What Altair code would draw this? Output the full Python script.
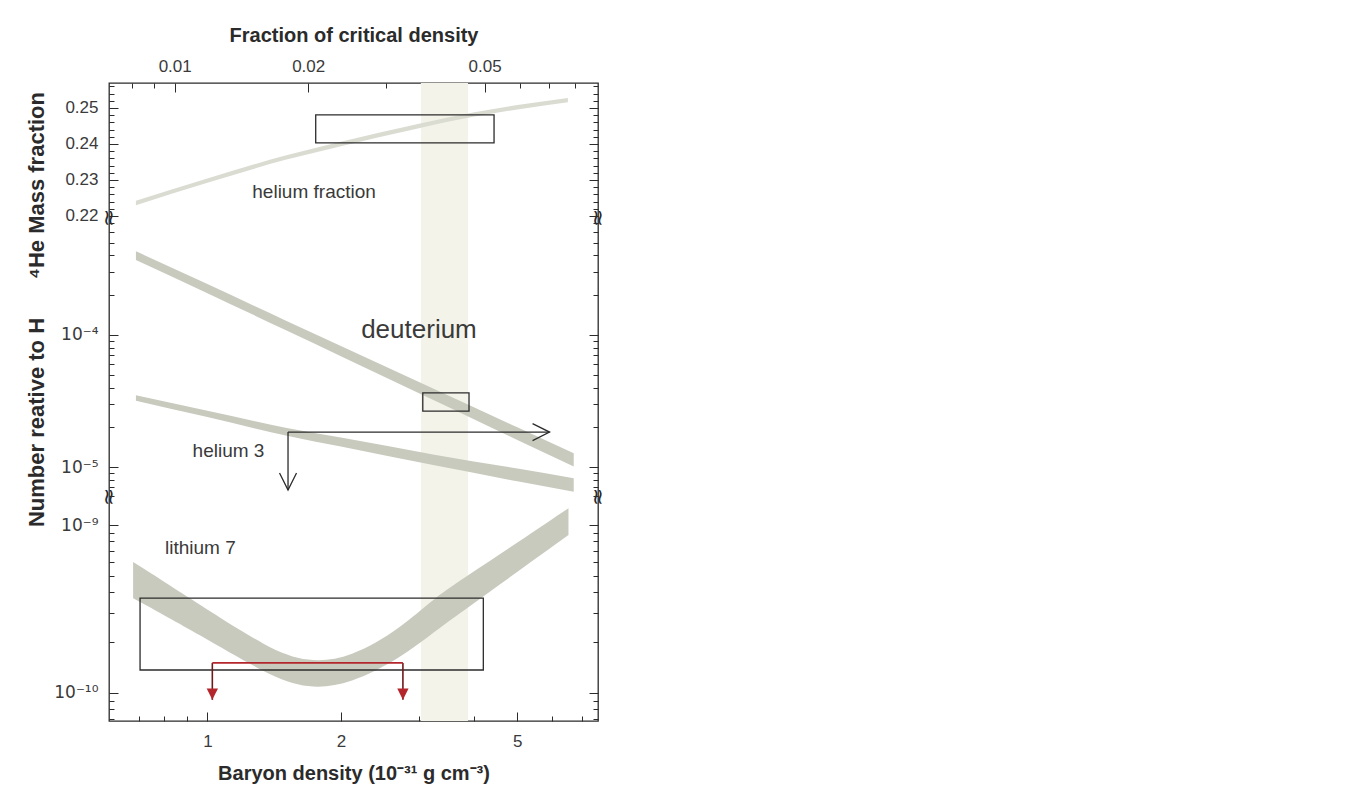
import altair as alt
import pandas as pd

FONT = "Liberation Sans"
SUP_FONT = "DejaVu Sans"
INK = "#2b2b2b"
TEXT = "#3a3a3a"
BAND = "#c8cabe"
BAND_HE = "#dadcd2"
SHADE_COLOR = "#f4f3ea"
RED = "#b3262b"

# ---------------- axes / domains ----------------
X_DOMAIN = [0.6, 7.6]
HE_DOMAIN = [0.21944, 0.25694]
MID_DOMAIN = [5.93e-6, 7.69e-4]
LI_DOMAIN = [6.81e-11, 1.468e-9]

X_MAJOR = [1, 2, 5]
X_MINOR = [0.7, 0.8, 0.9, 3, 4, 6, 7]
FRAC_PER_UNIT = 0.01185
FRAC_MAJOR = [0.01, 0.02, 0.05]
FRAC_MINOR = [0.008, 0.009, 0.03, 0.04, 0.06, 0.07, 0.08]
HE_MAJOR = [0.22, 0.23, 0.24, 0.25]
HE_MINOR = [0.222, 0.224, 0.226, 0.228, 0.232, 0.234, 0.236, 0.238,
            0.242, 0.244, 0.246, 0.248, 0.252, 0.254, 0.256]
MID_MAJOR = [1e-5, 1e-4]
MID_MINOR = [6e-6, 7e-6, 8e-6, 9e-6, 2e-5, 3e-5, 4e-5, 5e-5, 6e-5, 7e-5, 8e-5, 9e-5,
             2e-4, 3e-4, 4e-4, 5e-4, 6e-4, 7e-4]
LI_MAJOR = [1e-10, 1e-9]
LI_MINOR = [7e-11, 8e-11, 9e-11, 2e-10, 3e-10, 4e-10, 5e-10, 6e-10, 7e-10, 8e-10, 9e-10]

# ---------------- data ----------------
SHADE_X = [3.03, 3.87]

HE_X = [0.69, 1.0, 1.5, 2.0, 3.0, 4.0, 5.0, 6.5]
HE_LO = [0.2230, 0.2292, 0.2356, 0.2394, 0.2444, 0.2476, 0.2496, 0.2516]
HE_HI = [0.2242, 0.2304, 0.2368, 0.2406, 0.2456, 0.2488, 0.2508, 0.2528]
HE_BOX_X = [1.755, 4.43]
HE_BOX_Y = [0.2403, 0.2481]

D_X = [0.69, 1.0, 1.5, 2.0, 3.0, 4.0, 5.0, 6.7]
D_LO = [3.69e-4, 2.07e-4, 1.09e-4, 6.90e-5, 3.62e-5, 2.29e-5, 1.60e-5, 1.01e-5]
D_HI = [4.30e-4, 2.43e-4, 1.29e-4, 8.26e-5, 4.40e-5, 2.82e-5, 2.00e-5, 1.27e-5]
D_BOX_X = [3.06, 3.89]
D_BOX_Y = [2.65e-5, 3.64e-5]

HE3_X = [0.69, 1.0, 1.52, 2.0, 3.25, 5.0, 6.7]
HE3_LO = [3.18e-5, 2.39e-5, 1.72e-5, 1.43e-5, 1.03e-5, 7.80e-6, 6.49e-6]
HE3_HI = [3.49e-5, 2.67e-5, 1.97e-5, 1.67e-5, 1.24e-5, 9.73e-6, 8.24e-6]
HE3_ARROW_X = [1.52, 5.91]
HE3_ARROW_Y = [1.84e-5, 6.7e-6]

LI_X = [0.68, 0.964, 1.367, 1.684, 2.106, 2.733, 3.245, 3.88, 5.03, 6.52]
LI_LO = [3.67e-10, 2.21e-10, 1.28e-10, 1.05e-10, 1.13e-10, 1.62e-10, 2.31e-10, 3.25e-10, 5.32e-10, 8.71e-10]
LI_HI = [6.03e-10, 3.34e-10, 1.85e-10, 1.51e-10, 1.62e-10, 2.44e-10, 3.67e-10, 5.04e-10, 7.92e-10, 1.26e-9]
LI_BOX_X = [0.705, 4.19]
LI_BOX_Y = [1.37e-10, 3.67e-10]
RED_X = [1.026, 2.76]
RED_Y = [1.51e-10, 9.1e-11]

LABEL_HE = (["helium fraction"], [1.74], [0.2267])
LABEL_D = (["deuterium"], [3.0], [1.09e-4])
LABEL_HE3 = (["helium 3"], [1.116], [1.32e-5])
LABEL_LI = (["lithium 7"], [0.964], [7.3e-10])

# ---------------- layout (pixels) ----------------
W, H = 489, 638
HE_RANGE = [135, 0]      # helium fraction block
MID_RANGE = [414, 135]   # deuterium / helium-3 block
LI_RANGE = [638, 414]    # lithium block

XS = alt.Scale(type="log", domain=X_DOMAIN, nice=False)


def ys(kind, dom, rng):
    if kind == "log":
        return alt.Scale(type="log", domain=dom, range=rng, nice=False)
    return alt.Scale(type="linear", domain=dom, range=rng, nice=False, zero=False)


YS_HE = ys("linear", HE_DOMAIN, HE_RANGE)
YS_MID = ys("log", MID_DOMAIN, MID_RANGE)
YS_LI = ys("log", LI_DOMAIN, LI_RANGE)


def ghost(values, channel, scale, axis):
    df = pd.DataFrame({"v": values})
    if channel == "x":
        enc = dict(x=alt.X("v:Q", scale=scale, axis=axis))
    else:
        enc = dict(y=alt.Y("v:Q", scale=scale, axis=axis))
    return alt.Chart(df).mark_point(opacity=0).encode(**enc)


TICK_COMMON = dict(labels=False, grid=False, title=None, tickColor=INK, tickWidth=1,
                   domain=False)


def y_ticks(major, minor, scale):
    return [
        ghost(major, "y", scale, alt.Axis(orient="right", offset=-W, values=major, tickSize=9,
                                          **TICK_COMMON)),
        ghost(minor, "y", scale, alt.Axis(orient="right", offset=-W, values=minor, tickSize=5,
                                          **TICK_COMMON)),
        ghost(major, "y", scale, alt.Axis(orient="left", offset=-W, values=major, tickSize=9,
                                          **TICK_COMMON)),
        ghost(minor, "y", scale, alt.Axis(orient="left", offset=-W, values=minor, tickSize=5,
                                          **TICK_COMMON)),
    ]


def label_axis(values, label_expr=None, title=None, title_y=None):
    kw = dict(orient="left", values=values, ticks=False, tickSize=0, domain=False,
              labelColor=TEXT, labelPadding=11, grid=False)
    if label_expr:
        kw.update(labelExpr=label_expr, labelFont=SUP_FONT, labelFontSize=17)
    else:
        kw.update(format=".2f", labelFont=FONT, labelFontSize=17)
    if title:
        kw.update(title=title, titleFontSize=22, titleFontWeight="bold", titleColor=INK,
                  titleX=-73, titleY=title_y, titleAngle=-90, titleAlign="center",
                  titleBaseline="middle")
    else:
        kw["title"] = None
    return alt.Axis(**kw)


def shade():
    df = pd.DataFrame({"x1": [SHADE_X[0]], "x2": [SHADE_X[1]]})
    return alt.Chart(df).mark_rect(color=SHADE_COLOR).encode(
        x=alt.X("x1:Q", scale=XS, axis=None), x2="x2:Q")


def band(xs, lo, hi, yscale, color, interp="monotone"):
    df = pd.DataFrame({"x": xs, "lo": lo, "hi": hi})
    return alt.Chart(df).mark_area(color=color, interpolate=interp).encode(
        x=alt.X("x:Q", scale=XS, axis=None),
        y=alt.Y("lo:Q", scale=yscale, axis=None),
        y2="hi:Q")


def box(bx, by, yscale):
    df = pd.DataFrame({"x1": [bx[0]], "x2": [bx[1]], "y1": [by[0]], "y2": [by[1]]})
    return alt.Chart(df).mark_rect(fill="transparent", stroke=INK, strokeWidth=1.3).encode(
        x=alt.X("x1:Q", scale=XS, axis=None), x2="x2:Q",
        y=alt.Y("y1:Q", scale=yscale, axis=None), y2="y2:Q")


def label(spec, yscale, size):
    t, xs, yv = spec
    df = pd.DataFrame({"t": t, "x": xs, "y": yv})
    return alt.Chart(df).mark_text(font=FONT, fontSize=size, color=TEXT).encode(
        x=alt.X("x:Q", scale=XS, axis=None),
        y=alt.Y("y:Q", scale=yscale, axis=None),
        text="t:N")


frac_major_pos = [f / FRAC_PER_UNIT for f in FRAC_MAJOR]
frac_minor_pos = [f / FRAC_PER_UNIT for f in FRAC_MINOR]

he3_h = pd.DataFrame({"x1": [HE3_ARROW_X[0]], "x2": [HE3_ARROW_X[1]], "y": [HE3_ARROW_Y[0]]})
he3_v = pd.DataFrame({"x": [HE3_ARROW_X[0]], "y1": [HE3_ARROW_Y[0]], "y2": [HE3_ARROW_Y[1]]})
he3_head_r = pd.DataFrame({"x": [HE3_ARROW_X[1]], "y": [HE3_ARROW_Y[0]]})
he3_head_d = pd.DataFrame({"x": [HE3_ARROW_X[0]], "y": [HE3_ARROW_Y[1]]})
breaks = pd.DataFrame({"x": [X_DOMAIN[0], X_DOMAIN[1], X_DOMAIN[0], X_DOMAIN[1]],
                       "y": [MID_DOMAIN[1], MID_DOMAIN[1], MID_DOMAIN[0], MID_DOMAIN[0]],
                       "t": ["\u2248"] * 4})
red_h = pd.DataFrame({"x1": [RED_X[0]], "x2": [RED_X[1]], "y": [RED_Y[0]]})
red_v = pd.DataFrame({"x": RED_X, "y1": [RED_Y[0]] * 2, "y2": [RED_Y[1]] * 2})
red_tip = pd.DataFrame({"x": RED_X, "y": [RED_Y[1]] * 2})

layers = [
    shade(),
    # helium fraction
    band(HE_X, HE_LO, HE_HI, YS_HE, BAND_HE),
    box(HE_BOX_X, HE_BOX_Y, YS_HE),
    label(LABEL_HE, YS_HE, 19),
    # deuterium & helium 3
    band(D_X, D_LO, D_HI, YS_MID, BAND),
    band(HE3_X, HE3_LO, HE3_HI, YS_MID, BAND),
    box(D_BOX_X, D_BOX_Y, YS_MID),
    alt.Chart(he3_h).mark_rule(color=INK, strokeWidth=1.3).encode(
        x=alt.X("x1:Q", scale=XS, axis=None), x2="x2:Q",
        y=alt.Y("y:Q", scale=YS_MID, axis=None)),
    alt.Chart(he3_v).mark_rule(color=INK, strokeWidth=1.3).encode(
        x=alt.X("x:Q", scale=XS, axis=None),
        y=alt.Y("y1:Q", scale=YS_MID, axis=None), y2="y2:Q"),
    alt.Chart(he3_head_r).mark_point(shape="M -2 -1 L 0 0 L -2 1", filled=False, size=289,
                                     stroke=INK, strokeWidth=1.3, opacity=1).encode(
        x=alt.X("x:Q", scale=XS, axis=None), y=alt.Y("y:Q", scale=YS_MID, axis=None)),
    alt.Chart(he3_head_d).mark_point(shape="M -1 -2 L 0 0 L 1 -2", filled=False, size=289,
                                     stroke=INK, strokeWidth=1.3, opacity=1).encode(
        x=alt.X("x:Q", scale=XS, axis=None), y=alt.Y("y:Q", scale=YS_MID, axis=None)),
    label(LABEL_D, YS_MID, 26),
    label(LABEL_HE3, YS_MID, 19),
    alt.Chart(breaks).mark_text(font=SUP_FONT, fontSize=22, color=INK, angle=90).encode(
        x=alt.X("x:Q", scale=XS, axis=None), y=alt.Y("y:Q", scale=YS_MID, axis=None),
        text="t:N"),
    # lithium 7
    band(LI_X, LI_LO, LI_HI, YS_LI, BAND, "basis"),
    box(LI_BOX_X, LI_BOX_Y, YS_LI),
    alt.Chart(red_v).mark_rule(color="#6e1a1c", strokeWidth=1.6).encode(
        x=alt.X("x:Q", scale=XS, axis=None),
        y=alt.Y("y1:Q", scale=YS_LI, axis=None), y2="y2:Q"),
    alt.Chart(red_h).mark_rule(color=RED, strokeWidth=1.8).encode(
        x=alt.X("x1:Q", scale=XS, axis=None), x2="x2:Q",
        y=alt.Y("y:Q", scale=YS_LI, axis=None)),
    alt.Chart(red_tip).mark_point(shape="M -0.8 -1.6 L 0.8 -1.6 L 0 0 Z", filled=True,
                                  size=200, color=RED, opacity=1).encode(
        x=alt.X("x:Q", scale=XS, axis=None), y=alt.Y("y:Q", scale=YS_LI, axis=None)),
    label(LABEL_LI, YS_LI, 19),
    # x axes
    ghost(frac_major_pos, "x", XS, alt.Axis(
        orient="top", values=frac_major_pos,
        labelExpr="format(datum.value * %r, '.2f')" % FRAC_PER_UNIT,
        ticks=False, tickSize=0, domain=False,
        labelFontSize=17, labelColor=TEXT, labelPadding=8,
        title="Fraction of critical density", titleFontSize=20, titleFontWeight="bold",
        titleColor=INK, titlePadding=12, grid=False)),
    ghost(frac_major_pos, "x", XS, alt.Axis(orient="bottom", offset=-H, values=frac_major_pos,
                                            tickSize=9, **TICK_COMMON)),
    ghost(frac_minor_pos, "x", XS, alt.Axis(orient="bottom", offset=-H, values=frac_minor_pos,
                                            tickSize=5, **TICK_COMMON)),
    ghost(X_MAJOR, "x", XS, alt.Axis(
        orient="bottom", values=X_MAJOR, format="d", ticks=False, tickSize=0, domain=False,
        labelFontSize=17, labelColor=TEXT, labelPadding=12,
        title="Baryon density (10\u207b\u00b3\u00b9  g  cm\u207b\u00b3)", titleFontSize=20,
        titleFontWeight="bold", titleColor=INK, titlePadding=14, grid=False)),
    ghost(X_MAJOR, "x", XS, alt.Axis(orient="top", offset=-H, values=X_MAJOR,
                                     tickSize=9, **TICK_COMMON)),
    ghost(X_MINOR, "x", XS, alt.Axis(orient="top", offset=-H, values=X_MINOR,
                                     tickSize=5, **TICK_COMMON)),
    # y axes
    ghost(HE_MAJOR, "y", YS_HE, label_axis(HE_MAJOR, title="\u2074He Mass fraction", title_y=102)),
    ghost(MID_MAJOR, "y", YS_MID, label_axis(
        MID_MAJOR,
        label_expr="'10' + (round(log(datum.value)/LN10) == -4 ? '\u207b\u2074' : '\u207b\u2075')",
        title="Number reative to H", title_y=339)),
    ghost(LI_MAJOR, "y", YS_LI, label_axis(
        LI_MAJOR,
        label_expr="'10' + (round(log(datum.value)/LN10) == -9 ? '\u207b\u2079' : '\u207b\u00b9\u2070')")),
] + y_ticks(HE_MAJOR, HE_MINOR, YS_HE) + y_ticks(MID_MAJOR, MID_MINOR, YS_MID) \
  + y_ticks(LI_MAJOR, LI_MINOR, YS_LI)

chart = alt.layer(*layers).properties(
    width=W, height=H,
    padding={"left": 16, "top": 17, "right": 10, "bottom": 10}
).resolve_scale(y="independent").resolve_axis(x="independent", y="independent").configure_view(
    stroke=INK, strokeWidth=1.3
).configure_axis(grid=False, labelFont=FONT, titleFont=FONT)

chart.save("out.html", embed_options={"renderer": "svg", "actions": False})
